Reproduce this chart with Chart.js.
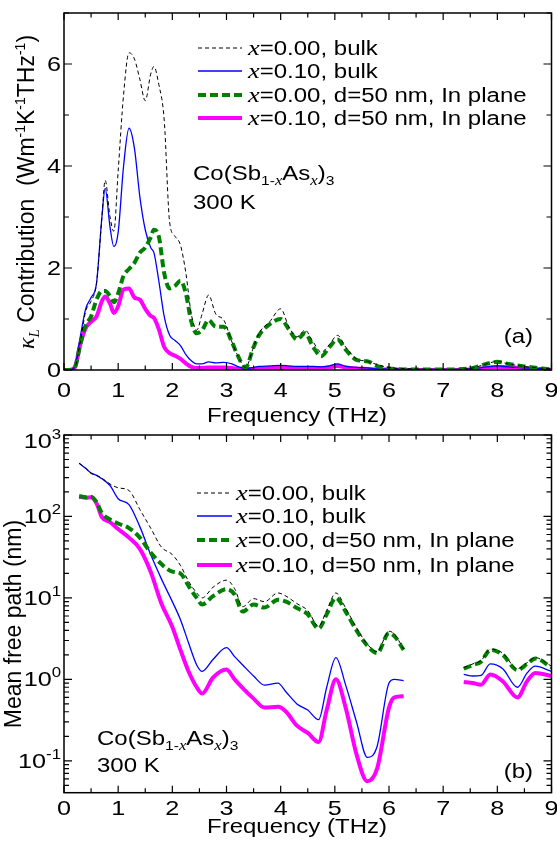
<!DOCTYPE html>
<html>
<head>
<meta charset="utf-8">
<script src="https://cdn.jsdelivr.net/npm/chart.js@4.4.0/dist/chart.umd.min.js"></script>
<style>
  body { margin: 0; background: #fff; width: 557px; height: 849px; position: relative; overflow: hidden; }
  canvas { position: absolute; left: 0; }
  #chartA { top: 0; }
  #chartB { top: 420px; }
</style>
</head>
<body>
<canvas id="chartA" width="557" height="432"></canvas>
<canvas id="chartB" width="557" height="429"></canvas>
<script>
// ---- data: (a) spectral kappa_L contribution, W m^-1 K^-1 THz^-1
const freqA = [0, 0.1, 0.2, 0.3, 0.4, 0.5, 0.6, 0.7, 0.76, 0.85, 0.92, 1.0, 1.1, 1.2, 1.3, 1.4, 1.5, 1.6, 1.66, 1.75,
  1.85, 1.95, 2.05, 2.15, 2.25, 2.35, 2.45, 2.55, 2.67, 2.8, 2.95, 3.1, 3.2, 3.35, 3.5, 3.6, 3.8, 4.0, 4.15, 4.3,
  4.45, 4.6, 4.75, 4.9, 5.05, 5.2, 5.4, 5.6, 5.8, 6.0, 6.5, 7.0, 7.5, 7.8, 8.0, 8.2, 8.5, 9.0];
const kBulk0 = [0, 0, 0.05, 0.55, 1.15, 1.35, 1.7, 3.0, 3.72, 3.0, 2.72, 3.9, 5.4, 6.22, 6.1, 5.7, 5.28, 5.8, 5.95, 5.6,
  4.9, 2.9, 2.62, 2.45, 1.9, 1.1, 0.78, 1.1, 1.47, 1.1, 0.98, 0.55, 0.3, 0.05, 0.45, 0.72, 0.95, 1.2, 0.85, 0.65,
  0.78, 0.55, 0.35, 0.5, 0.68, 0.45, 0.22, 0.17, 0.1, 0.05, 0.02, 0.01, 0.03, 0.12, 0.17, 0.12, 0.07, 0.02];
const kBulk1 = [0, 0, 0.08, 0.65, 1.2, 1.42, 1.7, 3.0, 3.56, 2.8, 2.42, 2.7, 4.0, 4.74, 4.35, 3.4, 2.75, 2.4, 2.3, 1.75,
  1.05, 0.68, 0.58, 0.48, 0.3, 0.18, 0.12, 0.12, 0.16, 0.14, 0.15, 0.12, 0.07, 0.03, 0.05, 0.07, 0.08, 0.09, 0.08, 0.07,
  0.07, 0.07, 0.06, 0.08, 0.12, 0.07, 0.05, 0.04, 0.02, 0.02, 0.01, 0.01, 0.02, 0.06, 0.08, 0.06, 0.04, 0.01];
const kFilm0 = [0, 0, 0.05, 0.5, 0.88, 1.05, 1.38, 1.55, 1.55, 1.45, 1.33, 1.5, 1.85, 1.98, 2.1, 2.3, 2.4, 2.6, 2.75, 2.62,
  1.9, 1.6, 1.65, 1.75, 1.5, 0.95, 0.72, 0.78, 0.98, 0.85, 0.85, 0.55, 0.3, 0.05, 0.45, 0.68, 0.9, 1.0, 0.8, 0.6,
  0.72, 0.45, 0.27, 0.45, 0.6, 0.4, 0.2, 0.17, 0.07, 0.03, 0.01, 0.01, 0.03, 0.12, 0.16, 0.12, 0.07, 0.01];
const kFilm1 = [0, 0, 0.05, 0.5, 0.82, 0.95, 1.05, 1.35, 1.44, 1.3, 1.12, 1.25, 1.58, 1.6, 1.42, 1.38, 1.2, 1.06, 1.02, 0.8,
  0.45, 0.33, 0.28, 0.22, 0.13, 0.06, 0.04, 0.04, 0.05, 0.05, 0.05, 0.04, 0.02, 0.01, 0.02, 0.03, 0.04, 0.04, 0.04, 0.04,
  0.04, 0.04, 0.04, 0.05, 0.08, 0.05, 0.03, 0.02, 0.01, 0.01, 0, 0, 0.01, 0.04, 0.06, 0.05, 0.03, 0];

// ---- data: (b) mean free path, nm (null = no phonons in the gap)
const freqB = [0.28, 0.4, 0.5, 0.6, 0.7, 0.85, 1.0, 1.2, 1.4, 1.6, 1.8, 2.0, 2.15, 2.3, 2.45, 2.55, 2.75, 3.0, 3.15, 3.3,
  3.5, 3.7, 3.95, 4.1, 4.3, 4.5, 4.7, 4.85, 5.02, 5.2, 5.4, 5.6, 5.78, 6.0, 6.1, 6.27, 6.8, 7.38, 7.55, 7.7,
  7.87, 8.1, 8.37, 8.55, 8.7, 9.0];
const mfpBulk0 = [450, 390, 340, 320, 295, 250, 225, 208, 122, 72, 42, 34, 25, 16, 11.5, 10, 13.5, 16.5, 13, 7.8,
  9.8, 9.0, 11.5, 10.5, 8.5, 7.0, 4.5, 7, 11.5, 7.5, 4.3, 2.7, 2.2, 3.9, 3.6, 2.35, null, 1.4, 1.55, 1.7,
  2.35, 2.1, 1.35, 1.6, 1.85, 1.45];
const mfpBulk1 = [450, 390, 340, 320, 290, 240, 165, 140, 75, 34, 17, 9, 5.4, 2.8, 1.5, 1.25, 1.75, 2.45, 1.9, 1.5,
  1.1, 0.85, 0.9, 0.7, 0.5, 0.42, 0.32, 0.8, 1.85, 0.85, 0.3, 0.11, 0.15, 0.9, 1.0, 0.96, null, 1.15, 1.1, 1.12,
  1.55, 1.35, 0.8, 1.2, 1.45, 1.25];
const mfpFilm0 = [178, 172, 175, 150, 110, 92, 82, 72, 55, 36, 26, 21, 20, 14, 10, 8.3, 10.5, 12.8, 11, 6.8,
  8.3, 7.6, 9.5, 9, 7.5, 6.3, 4.2, 6.3, 10, 6.8, 4, 2.6, 2.1, 3.7, 3.4, 2.3, null, 1.35, 1.5, 1.65,
  2.3, 2.0, 1.3, 1.55, 1.8, 1.4];
const mfpFilm1 = [175, 170, 172, 145, 98, 85, 70, 55, 40, 21, 8.5, 4.4, 2.3, 1.25, 0.8, 0.67, 1.05, 1.32, 1.0, 0.78,
  0.58, 0.45, 0.46, 0.4, 0.27, 0.22, 0.17, 0.42, 1.0, 0.45, 0.12, 0.056, 0.08, 0.45, 0.6, 0.62, null, 0.93, 0.9, 0.86,
  1.15, 0.95, 0.6, 0.95, 1.2, 1.1];

const seriesLabels = ['x=0.00, bulk', 'x=0.10, bulk', 'x=0.00, d=50 nm, In plane', 'x=0.10, d=50 nm, In plane'];
const freqTicks = [0, 1, 2, 3, 4, 5, 6, 7, 8, 9];
const kTicks = [0, 2, 4, 6];
const mfpExps = [-1, 0, 1, 2, 3];

// ---- text helpers (source text is drawn a bit wide, so stretch horizontally)
const SANS = '"Liberation Sans", Arial, Helvetica, sans-serif';
const SERIF = '"Liberation Serif", "Times New Roman", serif';
const SX = 1.2;

function seg(t, size, opt) {
  opt = opt || {};
  return { t: t, size: size, dy: opt.dy || 0, it: !!opt.it };
}
function fontOf(s) {
  return s.it ? 'italic ' + s.size + 'px ' + SERIF : s.size + 'px ' + SANS;
}
function drawRich(ctx, x, y, segs, align, rot) {
  ctx.save();
  ctx.translate(x, y);
  if (rot) ctx.rotate(-Math.PI / 2);
  else ctx.scale(SX, 1);
  ctx.textAlign = 'left';
  ctx.textBaseline = 'alphabetic';
  let w = 0;
  segs.forEach(s => { ctx.font = fontOf(s); w += ctx.measureText(s.t).width; });
  let cx = align === 'right' ? -w : align === 'center' ? -w / 2 : 0;
  segs.forEach(s => {
    ctx.font = fontOf(s);
    ctx.fillText(s.t, cx, s.dy);
    cx += ctx.measureText(s.t).width;
  });
  ctx.restore();
}
function legendText(label) {
  return [seg('x', 22, { it: true }), seg(label.slice(1), 20)];
}
function formula(sz, sub) {
  return [seg('Co(Sb', sz), seg('1-', sub, { dy: 5 }), seg('x', sub + 1, { it: true, dy: 5 }), seg('As', sz),
    seg('x', sub + 1, { it: true, dy: 5 }), seg(')', sz), seg('3', sub, { dy: 5 })];
}

function frameAndTicks(ctx, a, xs, yTicks) {
  ctx.lineWidth = 1.5;
  ctx.strokeRect(a.left, a.top, a.right - a.left, a.bottom - a.top);
  ctx.lineWidth = 1.2;
  ctx.beginPath();
  xs.ticks.forEach(t => {
    const p = xs.getPixelForValue(t.value);
    const L = Number.isInteger(t.value) ? 7 : 4.5;
    ctx.moveTo(p, a.bottom); ctx.lineTo(p, a.bottom - L);
    ctx.moveTo(p, a.top); ctx.lineTo(p, a.top + L);
  });
  yTicks.forEach(t => {
    ctx.moveTo(a.left, t.p); ctx.lineTo(a.left + t.L, t.p);
    ctx.moveTo(a.right, t.p); ctx.lineTo(a.right - t.L, t.p);
  });
  ctx.stroke();
}
function drawLegend(chart, x0, x1, tx, ys) {
  const ctx = chart.ctx;
  chart.data.datasets.forEach((ds, i) => {
    ctx.save();
    ctx.strokeStyle = ds.borderColor;
    ctx.lineWidth = ds.borderWidth;
    ctx.setLineDash(ds.borderDash || []);
    ctx.beginPath();
    ctx.moveTo(x0, ys[i]); ctx.lineTo(x1, ys[i]);
    ctx.stroke();
    ctx.restore();
    drawRich(ctx, tx, ys[i] + 7, legendText(ds.label));
  });
}

const decorA = {
  id: 'decorA',
  afterDraw(chart) {
    const { ctx, chartArea: a } = chart;
    const xs = chart.scales.x, ys = chart.scales.y;
    ctx.save();
    ctx.strokeStyle = '#000';
    ctx.fillStyle = '#000';
    frameAndTicks(ctx, a, xs, ys.ticks.map(t => ({ p: ys.getPixelForValue(t.value), L: t.value % 2 === 0 ? 8 : 5 })));
    freqTicks.forEach(v => drawRich(ctx, xs.getPixelForValue(v), 397, [seg(String(v), 21)], 'center'));
    kTicks.forEach(v => drawRich(ctx, 61, ys.getPixelForValue(v) + 7, [seg(String(v), 21)], 'right'));
    drawRich(ctx, 297, 422, [seg('Frequency (THz)', 20)], 'center');
    drawRich(ctx, 34, 192, [seg('\u03BA', 24, { it: true }), seg('L', 15, { it: true, dy: 5 }),
      seg(' Contribution  (Wm', 23), seg('-1', 14, { dy: -9 }), seg('K', 23), seg('-1', 14, { dy: -9 }),
      seg('THz', 23), seg('-1', 14, { dy: -9 }), seg(')', 23)], 'center', true);
    drawLegend(chart, 198, 242, 248, [48, 71, 95, 118]);
    drawRich(ctx, 193, 180, formula(20, 13));
    drawRich(ctx, 193, 209, [seg('300 K', 20)]);
    drawRich(ctx, 533, 343, [seg('(a)', 20)], 'right');
    ctx.restore();
  }
};

const decorB = {
  id: 'decorB',
  afterDraw(chart) {
    const { ctx, chartArea: a } = chart;
    const xs = chart.scales.x, ys = chart.scales.y;
    ctx.save();
    ctx.strokeStyle = '#000';
    ctx.fillStyle = '#000';
    const yt = [];
    for (let e = -2; e <= 3; e++) {
      for (let m = 1; m <= 9; m++) {
        const v = m * Math.pow(10, e);
        if (v < ys.min * 0.999 || v > ys.max * 1.001) continue;
        yt.push({ p: ys.getPixelForValue(v), L: m === 1 ? 8 : 5 });
      }
    }
    frameAndTicks(ctx, a, xs, yt);
    freqTicks.forEach(v => drawRich(ctx, xs.getPixelForValue(v), 395, [seg(String(v), 21)], 'center'));
    mfpExps.forEach(e => {
      const p = ys.getPixelForValue(Math.pow(10, e));
      drawRich(ctx, 61, p + (e === 3 ? 13 : 7), [seg('10', 21), seg(String(e).replace('-', '-'), 14, { dy: -9 })], 'right');
    });
    drawRich(ctx, 297, 413, [seg('Frequency (THz)', 20)], 'center');
    drawRich(ctx, 21, 204, [seg('Mean free path (nm)', 23)], 'center', true);
    drawLegend(chart, 197, 232, 236, [73, 96, 120, 145]);
    drawRich(ctx, 97, 325, formula(20, 13));
    drawRich(ctx, 97, 352, [seg('300 K', 20)]);
    drawRich(ctx, 533, 358, [seg('(b)', 20)], 'right');
    ctx.restore();
  }
};

function makeSets(xv, series) {
  const styles = [
    { borderColor: '#000000', borderWidth: 1, borderDash: [4, 3], order: 0 },
    { borderColor: '#0000ff', borderWidth: 1.3, borderDash: [], order: 2 },
    { borderColor: '#008000', borderWidth: 4, borderDash: [8, 4], order: 1 },
    { borderColor: '#ff00ff', borderWidth: 4, borderDash: [], order: 3 }
  ];
  return series.map((ys, i) => Object.assign({
    label: seriesLabels[i],
    data: xv.map((x, j) => ({ x: x, y: ys[j] })),
    pointRadius: 0,
    fill: false,
    spanGaps: false,
    cubicInterpolationMode: 'monotone'
  }, styles[i]));
}

function baseOptions(padTop, xHeight, yScale) {
  return {
    responsive: false,
    animation: false,
    events: [],
    layout: { padding: { top: padTop, right: 5.5, left: 0, bottom: 0 } },
    plugins: { legend: { display: false }, tooltip: { enabled: false } },
    scales: {
      x: {
        type: 'linear', min: 0, max: 9,
        ticks: { stepSize: 0.5, display: false },
        grid: { display: false }, border: { display: false },
        afterFit(s) { s.height = xHeight; }
      },
      y: Object.assign({
        ticks: { display: false },
        grid: { display: false }, border: { display: false },
        afterFit(s) { s.width = 64; }
      }, yScale)
    }
  };
}

new Chart(document.getElementById('chartA'), {
  type: 'line',
  data: { datasets: makeSets(freqA, [kBulk0, kBulk1, kFilm0, kFilm1]) },
  options: baseOptions(13, 62, { type: 'linear', min: 0, max: 7, ticks: { display: false, stepSize: 1 } }),
  plugins: [decorA]
});

new Chart(document.getElementById('chartB'), {
  type: 'line',
  data: { datasets: makeSets(freqB, [mfpBulk0, mfpBulk1, mfpFilm0, mfpFilm1]) },
  options: baseOptions(15, 56.3, { type: 'logarithmic', min: 0.0406, max: 1000 }),
  plugins: [decorB]
});
</script>
</body>
</html>
